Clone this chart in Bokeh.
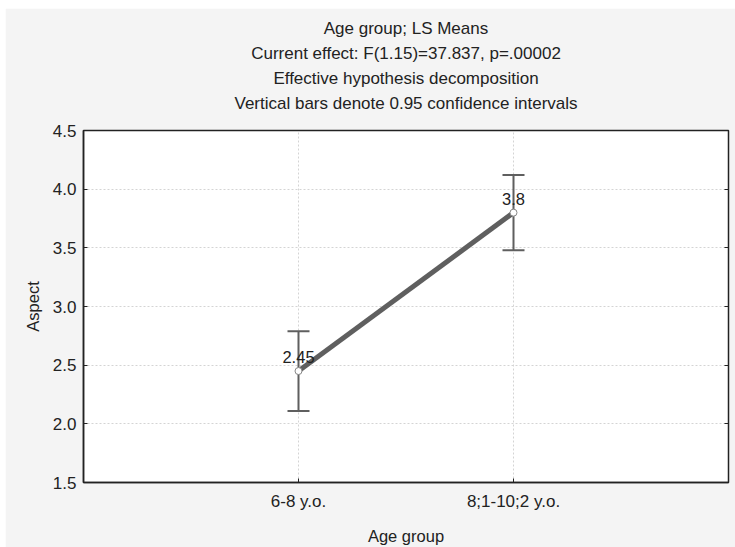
from bokeh.plotting import figure
from bokeh.models import (Range1d, LinearAxis, FixedTicker, ColumnDataSource,
                          Whisker, TeeHead, Title, NumeralTickFormatter)
from bokeh.core.properties import value
from bokeh.embed import file_html
from bokeh.resources import INLINE

# ---- data ----
categories = ["6-8 y.o.", "8;1-10;2 y.o."]
positions = [1, 2]
means = [2.45, 3.8]
mean_labels = ["2.45", "3.8"]
lower = [2.11, 3.48]
upper = [2.79, 4.12]
y_ticks = [1.5, 2.0, 2.5, 3.0, 3.5, 4.0, 4.5]
title_lines = [
    "Age group; LS Means",
    "Current effect: F(1.15)=37.837, p=.00002",
    "Effective hypothesis decomposition",
    "Vertical bars denote 0.95 confidence intervals",
]

FONT = "Liberation Sans"
GRAY = "#5f5f5f"
TXT = "#222222"

p = figure(width=730, height=539, output_backend="svg", toolbar_location=None,
           x_range=Range1d(0, 3), y_range=Range1d(1.5, 4.5),
           min_border_left=78, min_border_right=7, min_border_top=122,
           min_border_bottom=65)
p.margin = (8, 0, 0, 5)
p.background_fill_color = "white"
p.border_fill_color = "#f4f4f4"
p.outline_line_color = TXT
p.outline_line_width = 1.5

# axes
p.xaxis.ticker = FixedTicker(ticks=positions)
p.xaxis.major_label_overrides = {pos: c for pos, c in zip(positions, categories)}
p.yaxis.ticker = FixedTicker(ticks=y_ticks)
p.yaxis.formatter = NumeralTickFormatter(format="0.0")
for ax in (p.xaxis[0], p.yaxis[0]):
    ax.axis_line_color = TXT
    ax.axis_line_width = 1.5
    ax.major_tick_in = 4
    ax.major_tick_out = 0
    ax.major_tick_line_color = TXT
    ax.minor_tick_line_color = None
    ax.major_label_text_font = FONT
    ax.major_label_text_font_size = "17px"
    ax.major_label_text_color = TXT
    ax.axis_label_text_font = FONT
    ax.axis_label_text_font_size = "16.5px"
    ax.axis_label_text_font_style = "normal"
    ax.axis_label_text_color = TXT
p.xaxis.axis_label = "Age group"
p.yaxis.axis_label = "Aspect"
p.xaxis.major_label_standoff = 9
p.xaxis.axis_label_standoff = 13
p.yaxis.major_label_standoff = 7
p.yaxis.axis_label_standoff = 8

r_ax = LinearAxis(ticker=FixedTicker(ticks=y_ticks), major_label_text_color=None,
                  major_tick_in=4, major_tick_out=0, minor_tick_line_color=None,
                  axis_line_color=TXT, major_tick_line_color=TXT)
p.add_layout(r_ax, "right")

# grid
for g in (p.xgrid[0], p.ygrid[0]):
    g.grid_line_color = "#d4d4d4"
    g.grid_line_dash = "2 2"
    g.grid_line_width = 1
p.xgrid.ticker = FixedTicker(ticks=positions)
p.ygrid.ticker = FixedTicker(ticks=y_ticks)

src = ColumnDataSource(dict(x=positions, y=means, lo=lower, hi=upper, lab=mean_labels))

w = Whisker(source=src, base="x", lower="lo", upper="hi", line_color=GRAY, line_width=2,
            upper_head=TeeHead(size=22, line_color=GRAY, line_width=2),
            lower_head=TeeHead(size=22, line_color=GRAY, line_width=2))
p.add_layout(w)

p.line("x", "y", source=src, line_color=GRAY, line_width=5)
p.scatter("x", "y", source=src, size=7, fill_color="white", line_color="#888888",
          line_width=1)
p.text("x", "y", text="lab", source=src, text_align="center", text_baseline="bottom",
       y_offset=-8, text_font=value(FONT), text_font_size="16.5px", text_color=TXT)

# spacer between frame and the title block
p.add_layout(Title(text=" ", standoff=7.5, text_font_size="6px"), "above")
# stacked title lines (added bottom-up: later titles sit further from the frame)
for t in reversed(title_lines):
    p.add_layout(Title(text=t, align="center", offset=-27, standoff=4,
                       text_font=FONT, text_font_size="17px",
                       text_font_style="normal", text_color=TXT), "above")

open("out.html", "w").write(file_html(p, INLINE))
